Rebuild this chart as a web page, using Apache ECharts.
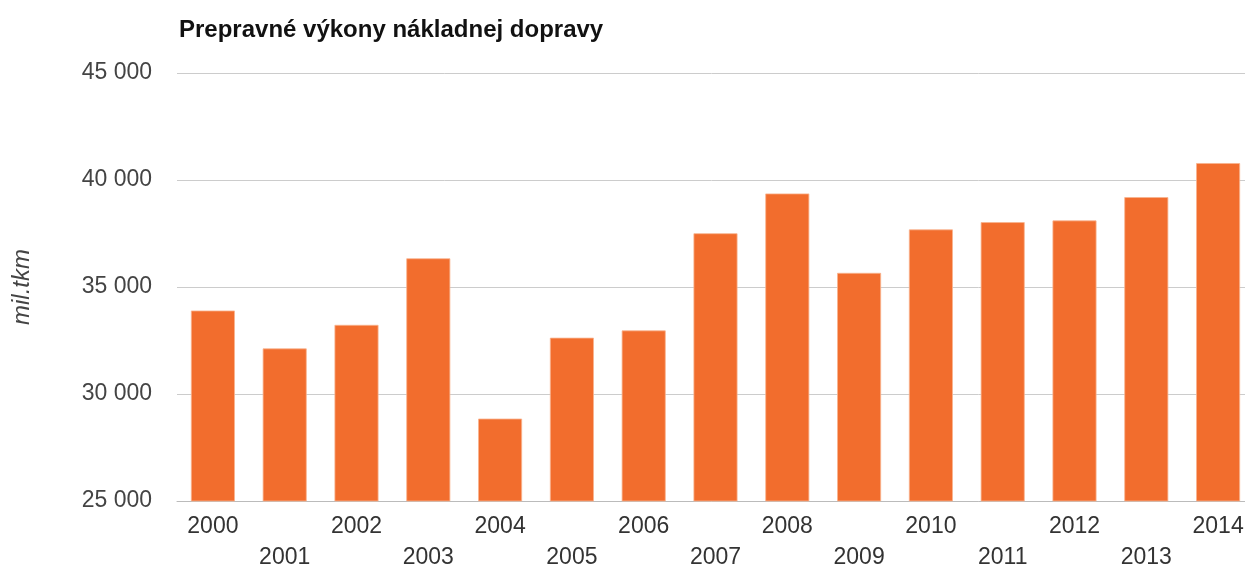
<!DOCTYPE html>
<html>
<head>
<meta charset="utf-8">
<script src="https://cdn.jsdelivr.net/npm/echarts@6/dist/echarts.min.js"></script>
<style>
  html, body { margin: 0; padding: 0; background: #fff; overflow: hidden; }
  #chart { width: 1245px; height: 567px; }
</style>
</head>
<body>
<div id="chart"></div>
<script>
// Freight transport performance by year (million tonne-km)
const years = ['2000','2001','2002','2003','2004','2005','2006','2007',
               '2008','2009','2010','2011','2012','2013','2014'];
const performance = [33900, 32130, 33230, 36340, 28850, 32630, 32970, 37510,
                     39370, 35660, 37690, 38030, 38110, 39200, 40790];
const yTicks = { min: 25000, max: 45000, interval: 5000 };

const chart = echarts.init(document.getElementById('chart'), null, { renderer: 'canvas' });
const font = 'Liberation Sans, Arial, sans-serif';

chart.setOption({
  animation: false,
  title: {
    text: 'Prepravné výkony nákladnej dopravy',
    left: 174,
    top: 13,
    textStyle: { fontFamily: font, fontSize: 24, fontWeight: 'bold', color: '#111' }
  },
  // plot area runs slightly past the right edge of the canvas
  grid: {
    left: 177, width: 1077, top: 73, bottom: 66,
    containLabel: false,
    outerBoundsMode: 'none'
  },
  xAxis: {
    type: 'category',
    data: years,
    axisLine: { show: true, lineStyle: { color: '#bbb', width: 1 } },
    axisTick: { show: false },
    axisLabel: {
      interval: 0,
      margin: 10,
      fontFamily: font,
      fontSize: 23,
      lineHeight: 31,
      color: '#333',
      formatter: (v, i) => (i % 2 === 1 ? '\n' + v : v)
    }
  },
  yAxis: {
    type: 'value',
    min: yTicks.min,
    max: yTicks.max,
    interval: yTicks.interval,
    name: 'mil.tkm',
    nameLocation: 'middle',
    nameGap: 143,
    nameRotate: 90,
    nameTextStyle: { fontFamily: font, fontSize: 24, fontStyle: 'italic', color: '#444' },
    axisLine: { show: false },
    axisTick: { show: false },
    splitLine: { lineStyle: { color: '#ccc', width: 1 } },
    axisLabel: {
      margin: 25,
      fontFamily: font,
      fontSize: 23,
      color: '#444',
      formatter: v => String(v).replace(/\B(?=(\d{3})+(?!\d))/g, ' ')
    }
  },
  series: [{
    type: 'bar',
    data: performance,
    barWidth: 44,
    itemStyle: { color: '#f26d2d', borderColor: '#f9b48f', borderWidth: 0.8 }
  }]
});
</script>
</body>
</html>
